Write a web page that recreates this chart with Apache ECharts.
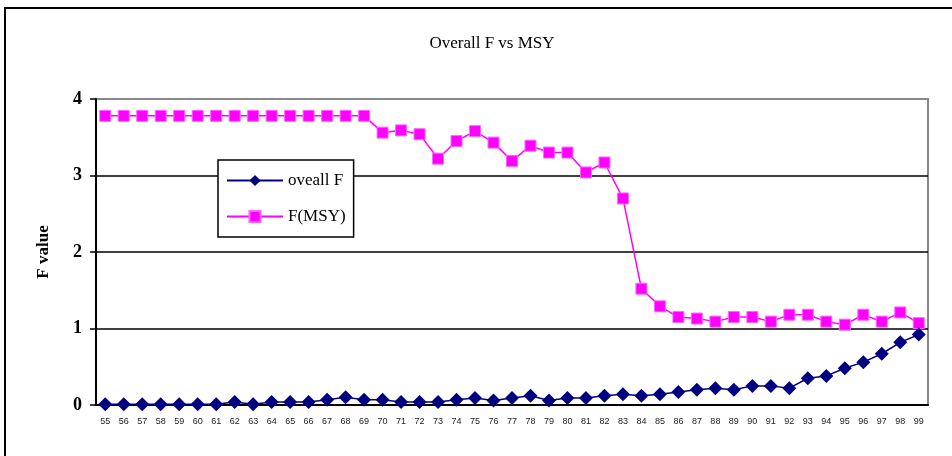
<!DOCTYPE html>
<html>
<head>
<meta charset="utf-8">
<script src="https://cdn.jsdelivr.net/npm/echarts@6/dist/echarts.min.js"></script>
<style>
  html, body { margin: 0; padding: 0; background: #fff; }
  #main { width: 952px; height: 456px; }
</style>
</head>
<body>
<div id="main"></div>
<script>
// years (two-digit) on the x axis
var years = ['55','56','57','58','59','60','61','62','63','64','65','66','67','68','69',
  '70','71','72','73','74','75','76','77','78','79','80','81','82','83','84',
  '85','86','87','88','89','90','91','92','93','94','95','96','97','98','99'];

// overall fishing mortality
var overallF = [0.01,0.01,0.01,0.01,0.01,0.01,0.01,0.04,0.01,0.04,0.04,0.04,0.07,0.10,0.07,
  0.07,0.04,0.04,0.04,0.07,0.09,0.06,0.09,0.12,0.06,0.09,0.09,0.12,0.14,0.12,
  0.14,0.17,0.20,0.22,0.20,0.25,0.25,0.22,0.35,0.38,0.48,0.56,0.67,0.82,0.92];

// F at maximum sustainable yield
var fMSY = [3.78,3.78,3.78,3.78,3.78,3.78,3.78,3.78,3.78,3.78,3.78,3.78,3.78,3.78,3.78,
  3.56,3.59,3.54,3.22,3.45,3.58,3.43,3.19,3.39,3.30,3.30,3.04,3.17,2.70,1.52,
  1.29,1.15,1.13,1.09,1.15,1.15,1.09,1.18,1.18,1.09,1.05,1.18,1.09,1.21,1.07];

var yTicks = [0, 1, 2, 3, 4];

var serif = '"Liberation Serif", "DejaVu Serif", serif';

var chart = echarts.init(document.getElementById('main'));

var option = {
  backgroundColor: '#fff',
  animation: false,
  title: {
    text: 'Overall F vs MSY',
    left: 487,
    top: 30,
    textAlign: 'center',
    textStyle: { fontFamily: serif, fontSize: 17, fontWeight: 'normal', color: '#000' }
  },
  // outer chart border
  graphic: [{
    type: 'rect',
    shape: { x: 5, y: 8, width: 960, height: 470 },
    style: { fill: 'none', stroke: '#000', lineWidth: 2 },
    z: -1
  }],
  legend: {
    orient: 'vertical',
    left: 218,
    top: 160,
    data: ['oveall F', 'F(MSY)'],
    backgroundColor: '#fff',
    borderColor: '#000',
    borderWidth: 1.5,
    padding: [12, 8, 12, 8],
    itemGap: 19,
    itemWidth: 56,
    itemHeight: 14,
    textStyle: { fontFamily: serif, fontSize: 17, color: '#000' }
  },
  grid: {
    left: 96,
    right: 24,
    top: 99,
    bottom: 51,
    show: true,
    borderColor: '#888',
    borderWidth: 2
  },
  xAxis: [{
    type: 'category',
    data: years,
    boundaryGap: true,
    axisLine: { lineStyle: { color: '#000', width: 2 } },
    axisTick: { interval: 0, length: 5, lineStyle: { color: '#000', width: 1.5 } },
    axisLabel: { interval: 0, margin: 12, fontFamily: '"Liberation Sans", Arial, sans-serif', fontSize: 9, color: '#222' }
  }, {
    // inward half of the crossing ticks
    type: 'category',
    data: years,
    position: 'bottom',
    boundaryGap: true,
    axisLine: { show: false },
    axisTick: { interval: 0, inside: true, length: 5, lineStyle: { color: '#000', width: 1.5 } },
    axisLabel: { show: false }
  }],
  yAxis: {
    type: 'value',
    min: yTicks[0],
    max: yTicks[yTicks.length - 1],
    interval: 1,
    name: 'F value',
    nameLocation: 'middle',
    nameGap: 44,
    nameTextStyle: { fontFamily: serif, fontSize: 17, fontWeight: 'bold', color: '#000' },
    axisLine: { show: true, lineStyle: { color: '#000', width: 2 } },
    axisTick: { show: true, length: 6, lineStyle: { color: '#000', width: 1.5 } },
    axisLabel: { margin: 14, fontFamily: serif, fontSize: 18, fontWeight: 'bold', color: '#000' },
    splitLine: { lineStyle: { color: ['#000', '#000', '#000', '#000', '#888'], width: 1.5 } }
  },
  series: [{
    name: 'oveall F',
    type: 'line',
    data: overallF,
    symbol: 'diamond',
    symbolSize: 14,
    itemStyle: { color: '#000080' },
    lineStyle: { color: '#000080', width: 1.5 },
    z: 3
  }, {
    name: 'F(MSY)',
    type: 'line',
    data: fMSY,
    symbol: 'rect',
    symbolSize: 11,
    itemStyle: { color: '#ff00ff', borderColor: '#ff66ff', borderWidth: 1 },
    lineStyle: { color: '#ff00ff', width: 1.5 },
    z: 2
  }]
};

chart.setOption(option);
</script>
</body>
</html>
